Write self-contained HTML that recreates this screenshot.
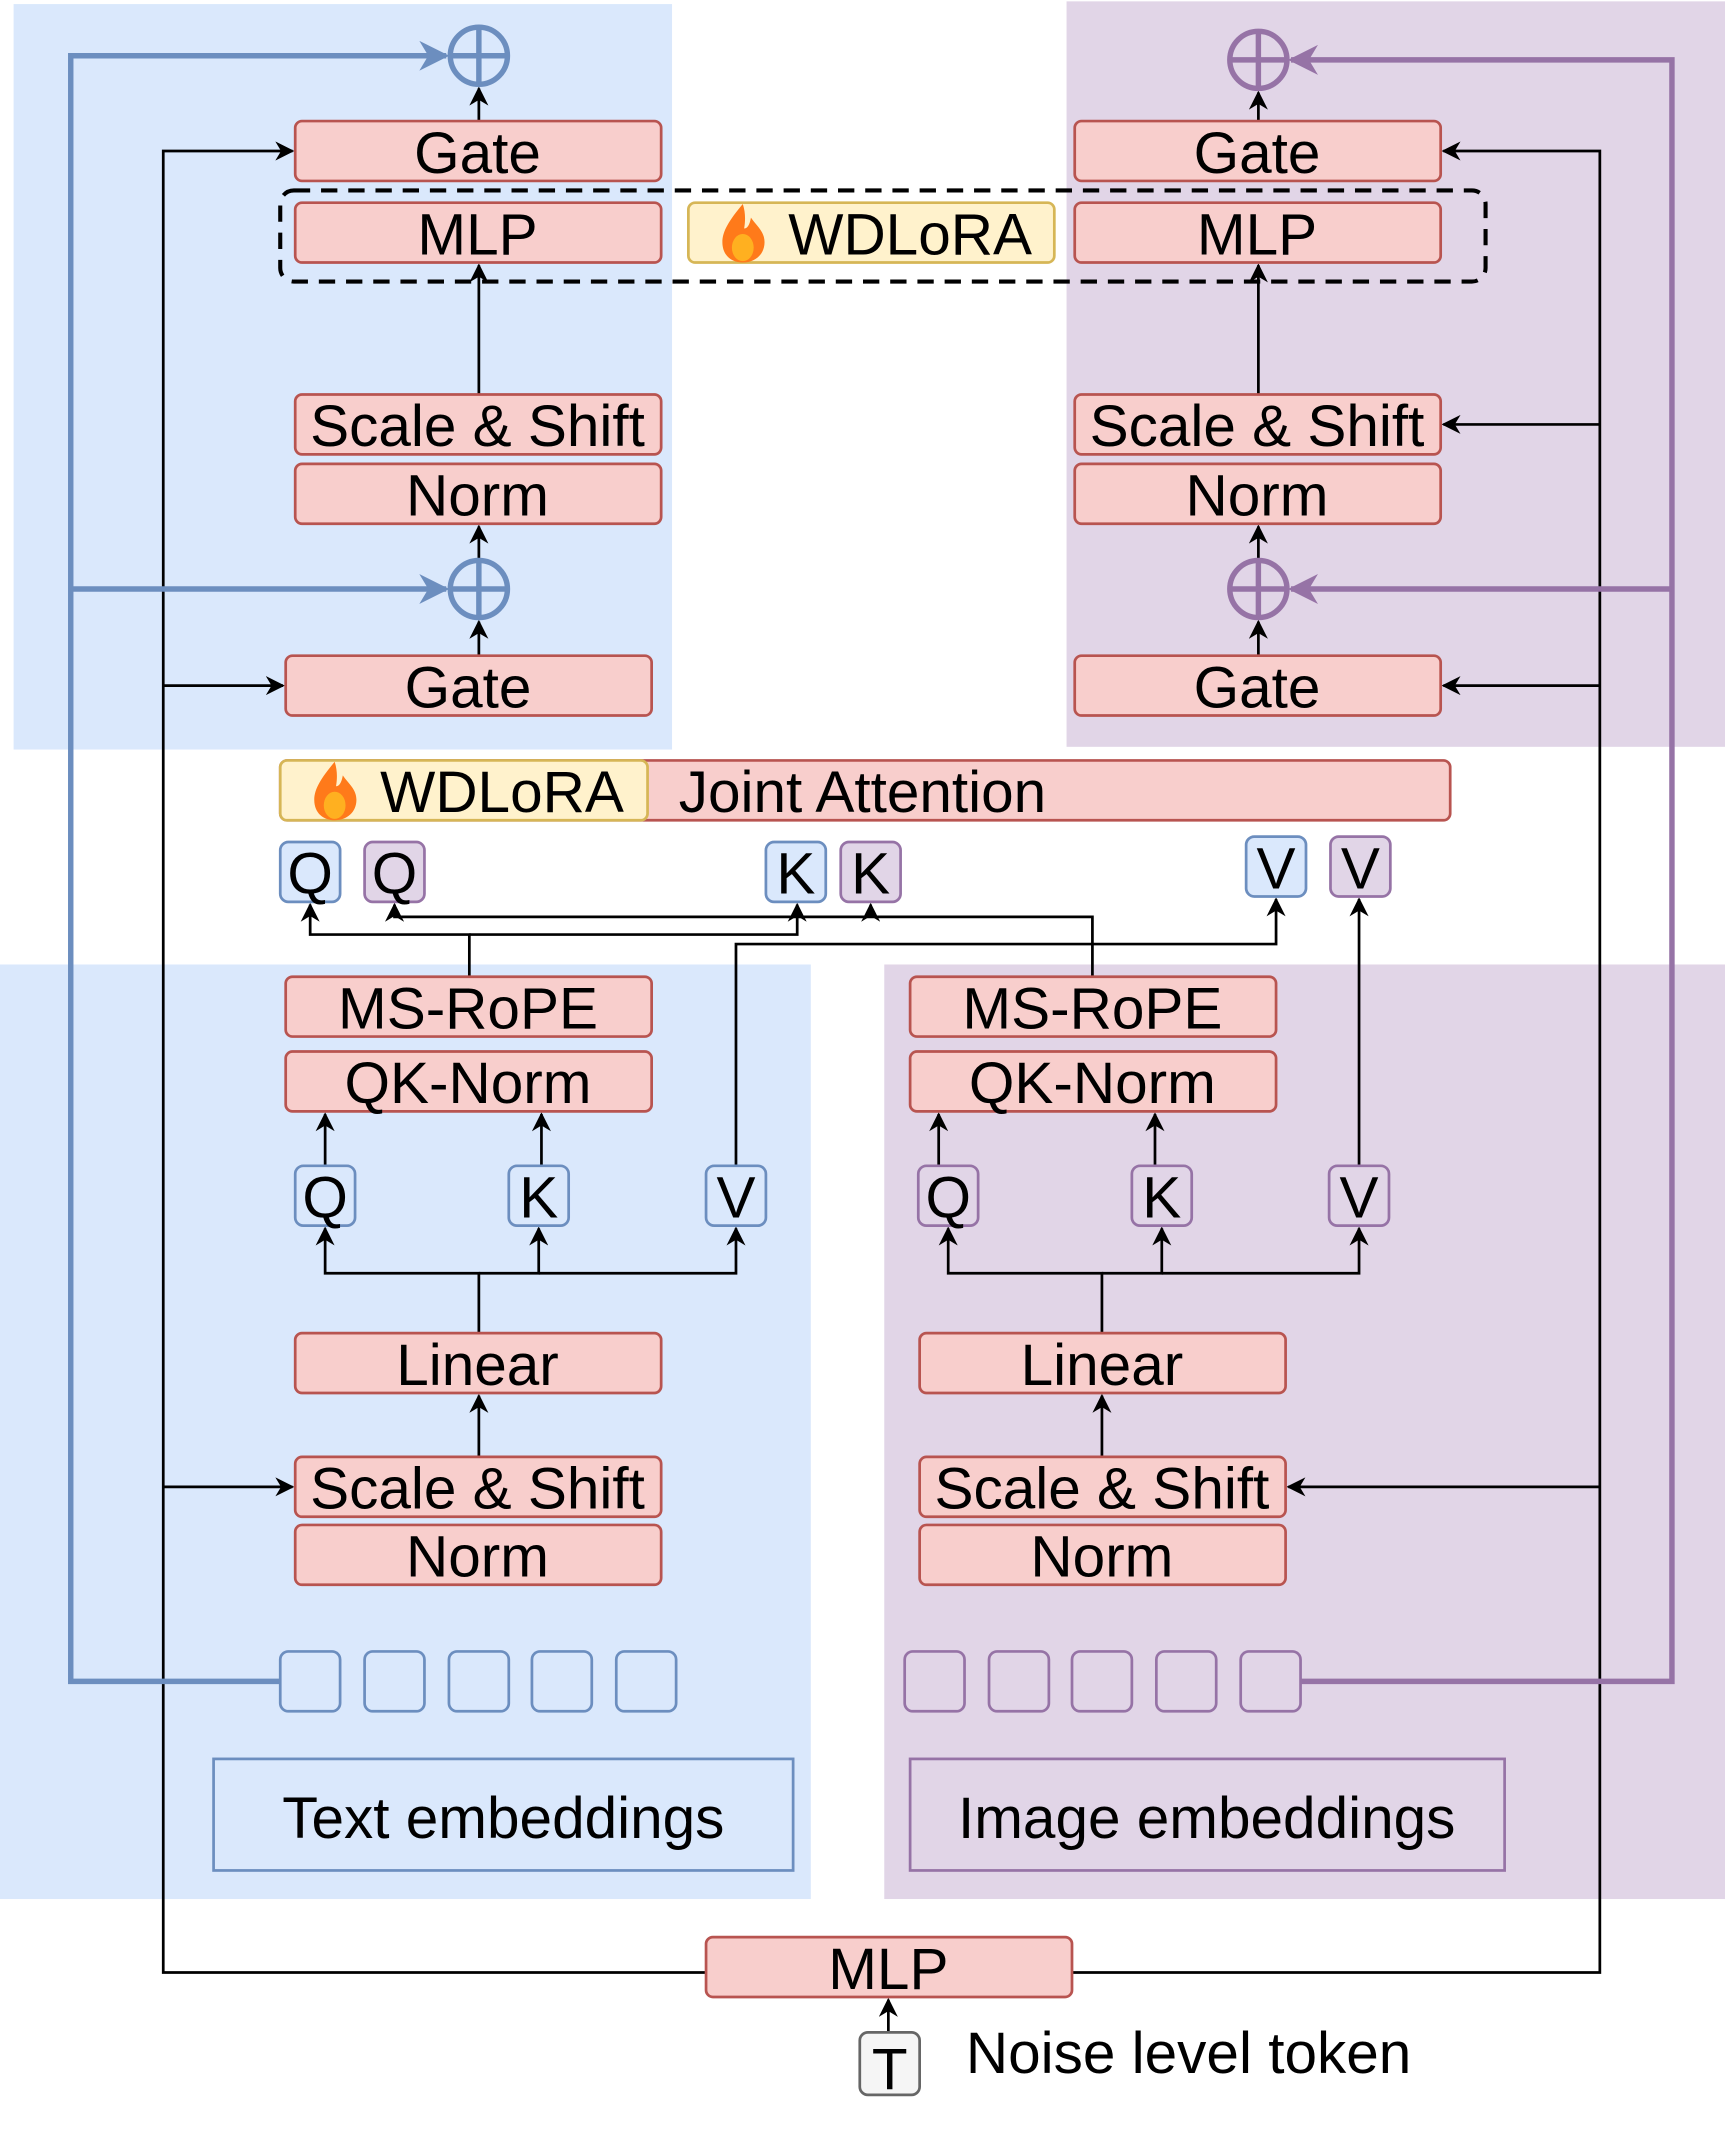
<!DOCTYPE html>
<html><head><meta charset="utf-8"><style>
html,body{margin:0;padding:0;background:#fff;}
svg{display:block;}
text{font-family:"Liberation Sans",sans-serif;fill:#000;}
</style></head><body>
<svg width="1725" height="2133" viewBox="0 0 1268 1568" preserveAspectRatio="none" xmlns="http://www.w3.org/2000/svg">
<defs>
<marker id="a" viewBox="0 0 10 10" refX="9" refY="5" markerWidth="14" markerHeight="14" orient="auto-start-reverse" markerUnits="userSpaceOnUse"><path d="M0,0 L10,5 L0,10 L3,5 z" fill="#000"/></marker>
<marker id="ab" viewBox="0 0 10 10" refX="9" refY="5" markerWidth="22" markerHeight="22" orient="auto" markerUnits="userSpaceOnUse"><path d="M0,0 L10,5 L0,10 L3,5 z" fill="#6c8ebf"/></marker>
<marker id="ap" viewBox="0 0 10 10" refX="9" refY="5" markerWidth="22" markerHeight="22" orient="auto" markerUnits="userSpaceOnUse"><path d="M0,0 L10,5 L0,10 L3,5 z" fill="#9673a6"/></marker>
</defs>
<g stroke="none">
<rect x="10" y="3" width="484" height="548" fill="#dae8fc"/>
<rect x="784" y="1" width="484" height="548" fill="#e1d5e7"/>
<rect x="0" y="709" width="596" height="687" fill="#dae8fc"/>
<rect x="650" y="709" width="618" height="687" fill="#e1d5e7"/>
</g>
<g fill="none" stroke="#000" stroke-width="2" marker-end="url(#a)">
<polyline points="519,1450 120,1450 120,111 215,111"/>
<polyline points="120,504 208,504"/>
<polyline points="120,1093 215,1093"/>
<polyline points="788,1450 1176,1450 1176,111 1061,111"/>
<polyline points="1176,312 1061,312"/>
<polyline points="1176,504 1061,504"/>
<polyline points="1176,1093 947,1093"/>
<line x1="352" y1="89" x2="352" y2="65"/>
<line x1="925" y1="89" x2="925" y2="68"/>
<line x1="352" y1="411" x2="352" y2="387"/>
<line x1="925" y1="411" x2="925" y2="387"/>
<line x1="352" y1="482" x2="352" y2="457"/>
<line x1="925" y1="482" x2="925" y2="457"/>
<line x1="352" y1="290" x2="352" y2="195"/>
<line x1="925" y1="290" x2="925" y2="195"/>
<line x1="352" y1="1071" x2="352" y2="1026"/>
<line x1="810" y1="1071" x2="810" y2="1026"/>
<line x1="653" y1="1494" x2="653" y2="1470"/>
<line x1="239" y1="857" x2="239" y2="819"/>
<line x1="398" y1="857" x2="398" y2="819"/>
<line x1="690" y1="857" x2="690" y2="819"/>
<line x1="849" y1="857" x2="849" y2="819"/>
<polyline points="352,980 352,936 239,936 239,903"/>
<polyline points="352,936 396,936 396,903"/>
<polyline points="396,936 541,936 541,903"/>
<polyline points="810,980 810,936 697,936 697,903"/>
<polyline points="810,936 854,936 854,903"/>
<polyline points="854,936 999,936 999,903"/>
<polyline points="541,857 541,694 938,694 938,661"/>
<polyline points="999,857 999,661"/>
<polyline points="345,718 345,687 228,687 228,665"/>
<polyline points="345,687 586,687 586,665"/>
<polyline points="803,718 803,674 290,674 290,665"/>
<polyline points="640,674 640,665"/>
</g>
<g fill="none" stroke-width="4">
<polyline points="206,1236 52,1236 52,41 328,41" stroke="#6c8ebf" marker-end="url(#ab)"/>
<polyline points="52,433 328,433" stroke="#6c8ebf" marker-end="url(#ab)"/>
<polyline points="956,1236 1229,1236 1229,44 949,44" stroke="#9673a6" marker-end="url(#ap)"/>
<polyline points="1229,433 949,433" stroke="#9673a6" marker-end="url(#ap)"/>
</g>
<g fill="#dae8fc" stroke="#6c8ebf" stroke-width="4">
<circle cx="352" cy="41" r="21"/><path d="M331,41H373M352,20V62"/>
<circle cx="352" cy="433" r="21"/><path d="M331,433H373M352,412V454"/>
</g>
<g fill="#e1d5e7" stroke="#9673a6" stroke-width="4">
<circle cx="925" cy="44" r="21"/><path d="M904,44H946M925,23V65"/>
<circle cx="925" cy="433" r="21"/><path d="M904,433H946M925,412V454"/>
</g>
<rect x="206" y="140" width="886" height="67" rx="10" fill="none" stroke="#000" stroke-width="3" stroke-dasharray="12,8"/>
<g fill="#f8cecc" stroke="#b85450" stroke-width="2">
<rect x="217" y="89" width="269" height="44" rx="5"/>
<rect x="217" y="149" width="269" height="44" rx="5"/>
<rect x="217" y="290" width="269" height="44" rx="5"/>
<rect x="217" y="341" width="269" height="44" rx="5"/>
<rect x="210" y="482" width="269" height="44" rx="5"/>
<rect x="790" y="89" width="269" height="44" rx="5"/>
<rect x="790" y="149" width="269" height="44" rx="5"/>
<rect x="790" y="290" width="269" height="44" rx="5"/>
<rect x="790" y="341" width="269" height="44" rx="5"/>
<rect x="790" y="482" width="269" height="44" rx="5"/>
<rect x="206" y="559" width="860" height="44" rx="5"/>
<rect x="210" y="718" width="269" height="44" rx="5"/>
<rect x="210" y="773" width="269" height="44" rx="5"/>
<rect x="217" y="980" width="269" height="44" rx="5"/>
<rect x="217" y="1071" width="269" height="44" rx="5"/>
<rect x="217" y="1121" width="269" height="44" rx="5"/>
<rect x="669" y="718" width="269" height="44" rx="5"/>
<rect x="669" y="773" width="269" height="44" rx="5"/>
<rect x="676" y="980" width="269" height="44" rx="5"/>
<rect x="676" y="1071" width="269" height="44" rx="5"/>
<rect x="676" y="1121" width="269" height="44" rx="5"/>
<rect x="519" y="1424" width="269" height="44" rx="5"/>
</g>
<g fill="#fff2cc" stroke="#d6b656" stroke-width="2">
<rect x="506" y="149" width="269" height="44" rx="5"/>
<rect x="206" y="559" width="270" height="44" rx="5"/>
</g>
<g fill="#dae8fc" stroke="#6c8ebf" stroke-width="2">
<rect x="206" y="619" width="44" height="44" rx="6"/>
<rect x="563" y="619" width="44" height="44" rx="6"/>
<rect x="916" y="615" width="44" height="44" rx="6"/>
<rect x="217" y="857" width="44" height="44" rx="6"/>
<rect x="374" y="857" width="44" height="44" rx="6"/>
<rect x="519" y="857" width="44" height="44" rx="6"/>
<rect x="206" y="1214" width="44" height="44" rx="6"/>
<rect x="268" y="1214" width="44" height="44" rx="6"/>
<rect x="330" y="1214" width="44" height="44" rx="6"/>
<rect x="391" y="1214" width="44" height="44" rx="6"/>
<rect x="453" y="1214" width="44" height="44" rx="6"/>
<rect x="157" y="1293" width="426" height="82"/>
</g>
<g fill="#e1d5e7" stroke="#9673a6" stroke-width="2">
<rect x="268" y="619" width="44" height="44" rx="6"/>
<rect x="618" y="619" width="44" height="44" rx="6"/>
<rect x="978" y="615" width="44" height="44" rx="6"/>
<rect x="675" y="857" width="44" height="44" rx="6"/>
<rect x="832" y="857" width="44" height="44" rx="6"/>
<rect x="977" y="857" width="44" height="44" rx="6"/>
<rect x="665" y="1214" width="44" height="44" rx="6"/>
<rect x="727" y="1214" width="44" height="44" rx="6"/>
<rect x="788" y="1214" width="44" height="44" rx="6"/>
<rect x="850" y="1214" width="44" height="44" rx="6"/>
<rect x="912" y="1214" width="44" height="44" rx="6"/>
<rect x="669" y="1293" width="437" height="82"/>
</g>
<rect x="632" y="1494" width="44" height="46" rx="6" fill="#f5f5f5" stroke="#666" stroke-width="2"/>
<g>
<path d="M546,150 C536,162 531,170 531,178 C531,188 538,193 546,193 C555,193 562,187 562,178 C562,170 556,166 552,160 C551,166 549,168 547,168 C548,162 548,156 546,150 z" fill="#ff7a1a"/>
<ellipse cx="546" cy="182" rx="8" ry="10" fill="#ffb020"/>
<path d="M246,560 C236,572 231,580 231,588 C231,598 238,603 246,603 C255,603 262,597 262,588 C262,580 256,576 252,570 C251,576 249,578 247,578 C248,572 248,566 246,560 z" fill="#ff7a1a"/>
<ellipse cx="246" cy="592" rx="8" ry="10" fill="#ffb020"/>
</g>
<g font-size="43" text-anchor="middle">
<text x="351" y="127">Gate</text>
<text x="351" y="187">MLP</text>
<text x="351" y="328">Scale &amp; Shift</text>
<text x="351" y="379">Norm</text>
<text x="344" y="520">Gate</text>
<text x="924" y="127">Gate</text>
<text x="924" y="187">MLP</text>
<text x="924" y="328">Scale &amp; Shift</text>
<text x="924" y="379">Norm</text>
<text x="924" y="520">Gate</text>
<text x="669" y="187">WDLoRA</text>
<text x="369" y="597">WDLoRA</text>
<text x="634" y="597">Joint Attention</text>
<text x="344" y="756">MS-RoPE</text>
<text x="344" y="811">QK-Norm</text>
<text x="351" y="1018">Linear</text>
<text x="351" y="1109">Scale &amp; Shift</text>
<text x="351" y="1159">Norm</text>
<text x="803" y="756">MS-RoPE</text>
<text x="803" y="811">QK-Norm</text>
<text x="810" y="1018">Linear</text>
<text x="810" y="1109">Scale &amp; Shift</text>
<text x="810" y="1159">Norm</text>
<text x="653" y="1462">MLP</text>
<text x="228" y="657">Q</text><text x="290" y="657">Q</text>
<text x="585" y="657">K</text><text x="640" y="657">K</text>
<text x="938" y="653">V</text><text x="1000" y="653">V</text>
<text x="239" y="895">Q</text><text x="396" y="895">K</text><text x="541" y="895">V</text>
<text x="697" y="895">Q</text><text x="854" y="895">K</text><text x="999" y="895">V</text>
<text x="654" y="1536">T</text>
<text x="370" y="1351">Text embeddings</text>
<text x="887" y="1351">Image embeddings</text>
</g>
<text x="710" y="1524" font-size="43">Noise level token</text>
</svg>
</body></html>
